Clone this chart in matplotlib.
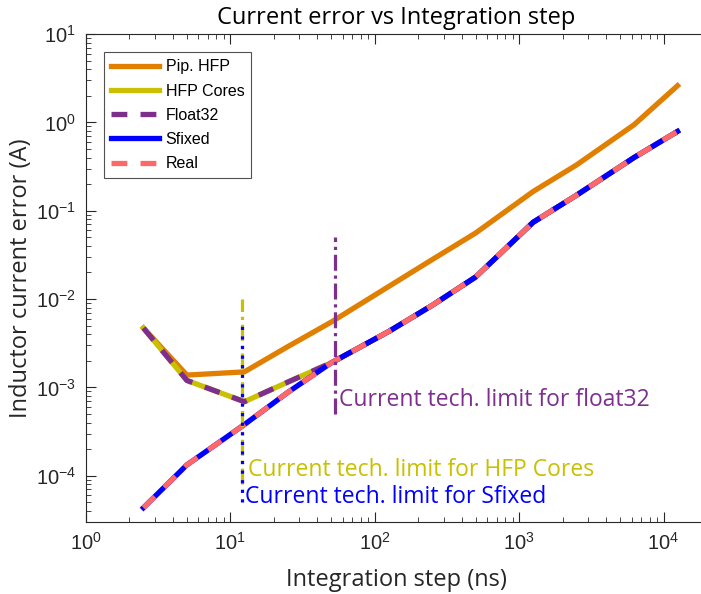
import matplotlib
matplotlib.use('Agg')
import matplotlib.pyplot as plt
from matplotlib.ticker import LogLocator, NullFormatter

# integration steps (ns)
steps = [2.5, 5, 12.5, 25, 50, 125, 250, 500, 1250, 2500, 6250, 12500]

pip_hfp   = [4.7e-3, 1.38e-3, 1.5e-3, 2.9e-3, 5.5e-3, 1.39e-2, 2.8e-2, 5.6e-2, 1.65e-1, 3.3e-1, 9.4e-1, 2.6]
hfp_cores = [4.7e-3, 1.2e-3, 6.9e-4, 1.15e-3, 1.9e-3, 4.3e-3, 8.5e-3, 1.78e-2, 7.4e-2, 1.5e-1, 4.0e-1, 7.9e-1]
float32   = [4.7e-3, 1.2e-3, 6.9e-4, 1.15e-3, 1.9e-3, 4.3e-3, 8.5e-3, 1.78e-2, 7.4e-2, 1.5e-1, 4.0e-1, 7.9e-1]
sfixed    = [4.35e-5, 1.33e-4, 3.8e-4, 8.8e-4, 1.9e-3, 4.3e-3, 8.5e-3, 1.78e-2, 7.4e-2, 1.5e-1, 4.0e-1, 7.9e-1]
real      = [4.35e-5, 1.33e-4, 3.8e-4, 8.8e-4, 1.9e-3, 4.3e-3, 8.5e-3, 1.78e-2, 7.4e-2, 1.5e-1, 4.0e-1, 7.9e-1]

# technology limits: x position, y range
lim_f32_x, lim_f32_y = 53, [5e-4, 5e-2]
lim_hfp_x, lim_hfp_y = 12, [8e-5, 1e-2]
lim_sfx_x, lim_sfx_y = 12, [5e-5, 5e-3]

c_orange = '#E07F00'
c_yellow = '#C8C000'
c_purple = '#7E2F8E'
c_blue = '#0000FF'
c_pink = '#FF6868'

txt_font = ['Open Sans', 'DejaVu Sans']
num_font = ['Liberation Sans', 'DejaVu Sans']

fig = plt.figure(figsize=(7.01, 5.94), dpi=100)
ax = fig.add_axes([86/701, 72/594, 621/701, 488/594])

lw = 3.8
ax.plot(steps, pip_hfp, color=c_orange, lw=lw, label='Pip. HFP', zorder=2)
ax.plot(steps, hfp_cores, color=c_yellow, lw=lw, label='HFP Cores', zorder=3)
ax.plot(steps, float32, color=c_purple, lw=lw, ls=(0, (3, 2.5)), label='Float32', zorder=4)
ax.plot(steps, sfixed, color=c_blue, lw=lw, label='Sfixed', zorder=5)
ax.plot(steps, real, color=c_pink, lw=lw, ls=(0, (3, 2.5)), label='Real', zorder=6)

ax.plot([lim_f32_x, lim_f32_x], lim_f32_y, color=c_purple, lw=2.3, ls=(0, (5, 1.5, 1, 1.5)), zorder=7)
ax.plot([lim_hfp_x, lim_hfp_x], lim_hfp_y, color=c_yellow, lw=2.3, ls=(0, (5, 1.5, 1, 1.5)), zorder=7)
ax.plot([lim_sfx_x, lim_sfx_x], lim_sfx_y, color=c_blue, lw=2.3, ls=(0, (1, 2)), zorder=8)

ax.text(lim_f32_x * 1.07, 7.3e-4, 'Current tech. limit for float32', color=c_purple,
        fontsize=16.5, family=txt_font, va='center', ha='left')
ax.text(lim_hfp_x * 1.1, 1.17e-4, 'Current tech. limit for HFP Cores', color=c_yellow,
        fontsize=16.5, family=txt_font, va='center', ha='left')
ax.text(lim_sfx_x * 1.05, 5.7e-5, 'Current tech. limit for Sfixed', color=c_blue,
        fontsize=16.5, family=txt_font, va='center', ha='left')

ax.set_xscale('log')
ax.set_yscale('log')
ax.set_xlim(1, 2e4)
ax.set_ylim(3e-5, 10)

ax.xaxis.set_major_locator(LogLocator(base=10, numticks=10))
ax.xaxis.set_minor_locator(LogLocator(base=10, subs=range(2, 10), numticks=20))
ax.xaxis.set_minor_formatter(NullFormatter())
ax.yaxis.set_major_locator(LogLocator(base=10, numticks=10))
ax.yaxis.set_minor_locator(LogLocator(base=10, subs=range(2, 10), numticks=20))
ax.yaxis.set_minor_formatter(NullFormatter())

ax.tick_params(which='both', direction='in', top=True, right=False, colors='#262626')
ax.tick_params(which='major', length=7, width=0.8, labelsize=14.5, pad=7)
ax.tick_params(which='minor', length=3.5, width=0.6)
for lab in ax.get_xticklabels() + ax.get_yticklabels():
    lab.set_family(num_font)
for s in ['left', 'bottom', 'top']:
    ax.spines[s].set_color('#262626')
    ax.spines[s].set_linewidth(0.8)
ax.spines['right'].set_visible(False)

ax.set_xlabel('Integration step (ns)', fontsize=17, family=txt_font, color='#262626', labelpad=10)
ax.set_ylabel('Inductor current error (A)', fontsize=17, family=txt_font, color='#262626', labelpad=2)
ax.set_title('Current error vs Integration step', fontsize=17, family=txt_font, color='#000000', pad=7)

leg = ax.legend(loc='upper left', bbox_to_anchor=(0.029, 0.963),
                prop={'family': num_font, 'size': 11.5}, frameon=True, fancybox=False,
                edgecolor='#262626', handlelength=3.0, handletextpad=0.4,
                borderpad=0.45, labelspacing=0.58, borderaxespad=0)
leg.get_frame().set_linewidth(0.8)

fig.savefig('out.png', dpi=100)
